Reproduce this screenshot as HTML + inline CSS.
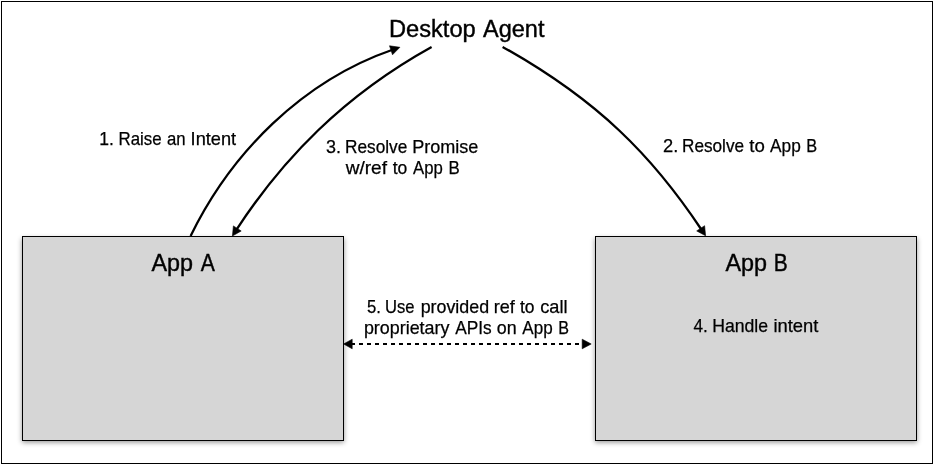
<!DOCTYPE html>
<html>
<head>
<meta charset="utf-8">
<title>Desktop Agent intent resolution</title>
<style>
html,body{margin:0;padding:0;background:#fff;}
body{width:934px;height:465px;position:relative;overflow:hidden;font-family:"Liberation Sans",sans-serif;}
#frame{position:absolute;left:1px;top:1px;width:930px;height:461px;border:1px solid #000;}
.box{position:absolute;box-sizing:border-box;top:236px;width:322px;height:205px;border:1px solid #000;background:#d6d6d6;box-shadow:0 1.5px 5px rgba(0,0,0,0.42);}
#boxA{left:22px;}
#boxB{left:595px;}
svg{position:absolute;left:0;top:0;will-change:transform;}
text{font-family:"Liberation Sans",sans-serif;fill:#000;}
.s{font-size:17.8px;stroke:#000;stroke-width:0.25px;}
.l{font-size:23.5px;stroke:#000;stroke-width:0.4px;}
</style>
</head>
<body>
<div id="frame"></div>
<div class="box" id="boxA"></div>
<div class="box" id="boxB"></div>
<svg width="934" height="465" viewBox="0 0 934 465">
  <g fill="none" stroke="#000" stroke-width="2.3">
    <path id="c1" d="M190.6,236.0 C231.2,152.9 302.0,81.0 393.2,49.5"/>
    <path id="c3" d="M431.6,47.0 C343.3,95.9 282.6,159.1 236.2,230.1"/>
    <path id="c2" d="M502.6,46.9 C598.1,100.3 652.5,156.0 701.7,230.0"/>
    <path id="d5" d="M351,344 L583,344" stroke-width="2" stroke-dasharray="4 4"/>
  </g>
  <g fill="#000" stroke="#000" stroke-width="0.6" stroke-linejoin="round">
    <polygon id="a5l" points="343.6,344 352.2,339.2 352.2,348.8"/>
    <polygon id="a1" points="399.9,47.3 392.5,54.8 389.5,45.8"/>
    <polygon id="a3" points="232.4,236.0 233.4,225.9 241.2,231.0"/>
    <polygon id="a2" points="705.6,235.8 696.7,230.9 704.6,225.7"/>
    <polygon id="a5r" points="591.2,344 582.2,339.2 582.2,348.8"/>
  </g>
  <text class="l" y="37"><tspan x="388.92" textLength="86.84" lengthAdjust="spacingAndGlyphs">Desktop</tspan> <tspan x="483.01" textLength="61.43" lengthAdjust="spacingAndGlyphs">Agent</tspan></text>
  <text class="s" y="145"><tspan x="99.23" textLength="14.62" lengthAdjust="spacingAndGlyphs">1.</tspan> <tspan x="118.55" textLength="43.12" lengthAdjust="spacingAndGlyphs">Raise</tspan> <tspan x="166.92" textLength="18.62" lengthAdjust="spacingAndGlyphs">an</tspan> <tspan x="190.60" textLength="45.56" lengthAdjust="spacingAndGlyphs">Intent</tspan></text>
  <text class="s" y="153"><tspan x="326.09" textLength="15.01" lengthAdjust="spacingAndGlyphs">3.</tspan> <tspan x="345.05" textLength="62.29" lengthAdjust="spacingAndGlyphs">Resolve</tspan> <tspan x="412.17" textLength="66.25" lengthAdjust="spacingAndGlyphs">Promise</tspan></text>
  <text class="s" y="174"><tspan x="345.70" textLength="41.31" lengthAdjust="spacingAndGlyphs">w/ref</tspan> <tspan x="392.66" textLength="14.61" lengthAdjust="spacingAndGlyphs">to</tspan> <tspan x="413.05" textLength="29.80" lengthAdjust="spacingAndGlyphs">App</tspan> <tspan x="448.50" textLength="11.27" lengthAdjust="spacingAndGlyphs">B</tspan></text>
  <text class="s" y="152"><tspan x="662.95" textLength="15.31" lengthAdjust="spacingAndGlyphs">2.</tspan> <tspan x="681.99" textLength="62.10" lengthAdjust="spacingAndGlyphs">Resolve</tspan> <tspan x="749.22" textLength="15.55" lengthAdjust="spacingAndGlyphs">to</tspan> <tspan x="770.05" textLength="30.74" lengthAdjust="spacingAndGlyphs">App</tspan> <tspan x="806.20" textLength="10.91" lengthAdjust="spacingAndGlyphs">B</tspan></text>
  <text class="l" y="271"><tspan x="151.41" textLength="41.59" lengthAdjust="spacingAndGlyphs">App</tspan> <tspan x="200.74" textLength="14.11" lengthAdjust="spacingAndGlyphs">A</tspan></text>
  <text class="l" y="271"><tspan x="725.41" textLength="41.59" lengthAdjust="spacingAndGlyphs">App</tspan> <tspan x="773.72" textLength="14.00" lengthAdjust="spacingAndGlyphs">B</tspan></text>
  <text class="s" y="313"><tspan x="366.94" textLength="13.93" lengthAdjust="spacingAndGlyphs">5.</tspan> <tspan x="384.98" textLength="29.50" lengthAdjust="spacingAndGlyphs">Use</tspan> <tspan x="420.65" textLength="68.49" lengthAdjust="spacingAndGlyphs">provided</tspan> <tspan x="493.67" textLength="21.08" lengthAdjust="spacingAndGlyphs">ref</tspan> <tspan x="519.90" textLength="14.59" lengthAdjust="spacingAndGlyphs">to</tspan> <tspan x="540.22" textLength="27.31" lengthAdjust="spacingAndGlyphs">call</tspan></text>
  <text class="s" y="334"><tspan x="363.91" textLength="85.54" lengthAdjust="spacingAndGlyphs">proprietary</tspan> <tspan x="455.28" textLength="36.46" lengthAdjust="spacingAndGlyphs">APIs</tspan> <tspan x="496.78" textLength="19.87" lengthAdjust="spacingAndGlyphs">on</tspan> <tspan x="522.32" textLength="30.34" lengthAdjust="spacingAndGlyphs">App</tspan> <tspan x="558.24" textLength="10.76" lengthAdjust="spacingAndGlyphs">B</tspan></text>
  <text class="s" y="332"><tspan x="693.52" textLength="14.34" lengthAdjust="spacingAndGlyphs">4.</tspan> <tspan x="712.17" textLength="55.93" lengthAdjust="spacingAndGlyphs">Handle</tspan> <tspan x="773.44" textLength="44.97" lengthAdjust="spacingAndGlyphs">intent</tspan></text>
</svg>
</body>
</html>
